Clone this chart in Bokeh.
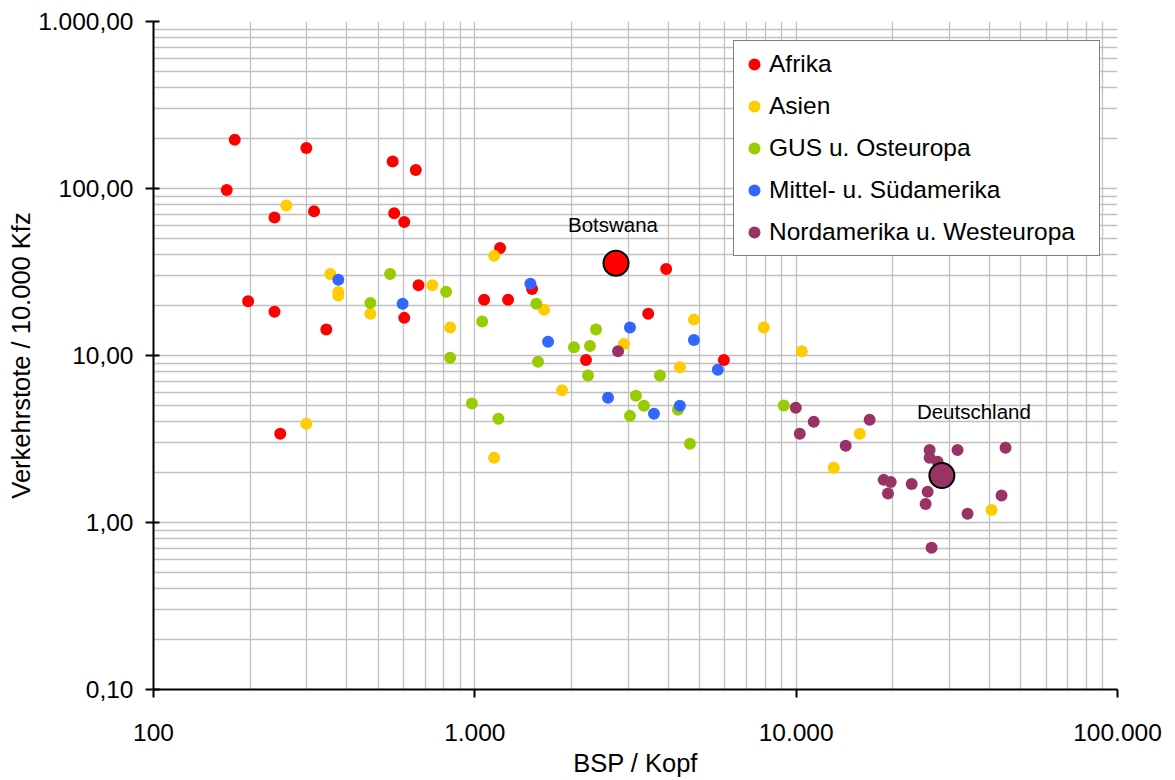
from bokeh.plotting import figure
from bokeh.models import Range1d, FixedTicker, Label, Legend, LegendItem, CustomJSTickFormatter
from bokeh.embed import file_html
from bokeh.resources import INLINE

# --- data: GDP per capita (BSP / Kopf) vs. road deaths per 10,000 vehicles ---
regions = ["Afrika", "Asien", "GUS u. Osteuropa", "Mittel- u. Südamerika", "Nordamerika u. Westeuropa"]
region_colors = ["#FF0000", "#FFCC00", "#99CC00", "#3366FF", "#993366"]

afrika_bsp = [179, 299, 555, 655, 169, 316, 238, 561, 603, 1198, 3940, 1507, 1069, 1269,
              197, 238, 668, 603, 345, 3464, 2218, 5957, 248]
afrika_tote = [196, 175, 145, 129, 98, 73, 67, 71, 63, 44, 33, 25, 21.6, 21.6,
               21.1, 18.3, 26.3, 16.8, 14.3, 17.8, 9.4, 9.4, 3.4]

asien_bsp = [259, 1148, 355, 376, 376, 737, 473, 838, 299, 1148, 1642, 4806, 7931, 2912,
             10410, 4346, 1868, 15770, 13090, 40550]
asien_tote = [79, 39.5, 30.8, 24.0, 22.9, 26.3, 17.8, 14.7, 3.9, 2.44, 18.8, 16.4, 14.7, 11.7,
              10.6, 8.5, 6.2, 3.4, 2.13, 1.19]

gus_bsp = [545, 814, 473, 1054, 838, 979, 1184, 1554, 2383, 2035, 2282, 1573, 2250, 3767,
           3172, 3360, 3039, 4285, 4670, 9152]
gus_tote = [30.8, 24.1, 20.6, 16.0, 9.7, 5.16, 4.18, 20.4, 14.3, 11.2, 11.4, 9.17, 7.59, 7.59,
            5.74, 5.0, 4.35, 4.73, 2.96, 5.02]

mittel_bsp = [376, 596, 1489, 1690, 3039, 4806, 5705, 2597, 3609, 4346]
mittel_tote = [28.4, 20.4, 26.9, 12.1, 14.7, 12.4, 8.21, 5.58, 4.48, 5.0]

nord_bsp = [2790, 9972, 11340, 10260, 16930, 14260, 26020, 31780, 44830, 26020, 27550,
            18720, 19690, 22880, 25650, 19310, 25290, 43560, 34150, 26390]
nord_tote = [10.6, 4.86, 4.01, 3.4, 4.12, 2.88, 2.72, 2.72, 2.8, 2.44, 2.31,
             1.8, 1.75, 1.7, 1.53, 1.49, 1.29, 1.45, 1.13, 0.706]

# highlighted countries
highlight_names = ["Botswana", "Deutschland"]
highlight_bsp = [2750, 28410]
highlight_tote = [35.7, 1.91]
highlight_colors = ["#FF0000", "#993366"]

x_ticks = [100, 1000, 10000, 100000]
x_tick_labels = ["100", "1.000", "10.000", "100.000"]
y_ticks = [0.1, 1, 10, 100, 1000]
y_tick_labels = ["0,10", "1,00", "10,00", "100,00", "1.000,00"]

x_title = "BSP / Kopf"
y_title = "Verkehrstote / 10.000 Kfz"

FONT = "Liberation Sans"
GRID = "#C0C0C0"

p = figure(width=1175, height=780, x_axis_type="log", y_axis_type="log",
           x_range=Range1d(100, 100000), y_range=Range1d(0.1, 1000),
           output_backend="svg", toolbar_location=None,
           min_border_left=153, min_border_right=58, min_border_top=21, min_border_bottom=91)
p.outline_line_color = None
p.background_fill_color = "white"
p.border_fill_color = "white"


def minor_ticks(ticks):
    return [m * t for t in ticks[:-1] for m in range(2, 10)]


def log_formatter(values, labels):
    return CustomJSTickFormatter(
        args=dict(tick_values=values, tick_labels=labels),
        code="""
        for (let i = 0; i < tick_values.length; i++) {
            if (Math.abs(Math.log10(tick_values[i]) - Math.log10(tick)) < 1e-6) return tick_labels[i];
        }
        return "";
        """)


p.xaxis.ticker = FixedTicker(ticks=x_ticks, minor_ticks=minor_ticks(x_ticks))
p.yaxis.ticker = FixedTicker(ticks=y_ticks, minor_ticks=minor_ticks(y_ticks))
p.xaxis.formatter = log_formatter(x_ticks, x_tick_labels)
p.yaxis.formatter = log_formatter(y_ticks, y_tick_labels)

for g in (p.xgrid, p.ygrid):
    g.grid_line_color = GRID
    g.grid_line_width = 1.3
    g.minor_grid_line_color = GRID
    g.minor_grid_line_width = 1.3

p.axis.axis_line_color = "black"
p.axis.axis_line_width = 2
p.axis.major_tick_line_color = "black"
p.axis.major_tick_line_width = 2
p.axis.minor_tick_line_color = None
p.axis.major_label_text_font = FONT
p.axis.major_label_text_font_size = "24.5px"
p.axis.major_label_text_color = "black"
p.axis.axis_label_text_font = FONT
p.axis.axis_label_text_font_size = "25.5px"
p.axis.axis_label_text_font_style = "normal"
p.axis.axis_label_text_color = "black"

p.xaxis.major_tick_out = 8
p.xaxis.major_tick_in = 0
p.xaxis.major_label_standoff = 26
p.xaxis.axis_label = x_title
p.xaxis.axis_label_standoff = 5

p.yaxis.major_tick_out = 8
p.yaxis.major_tick_in = 6
p.yaxis.major_label_standoff = 12
p.yaxis.axis_label = y_title
p.yaxis.axis_label_standoff = 0

series = [
    (afrika_bsp, afrika_tote),
    (asien_bsp, asien_tote),
    (gus_bsp, gus_tote),
    (mittel_bsp, mittel_tote),
    (nord_bsp, nord_tote),
]

items = []
for name, color, (xs, ys) in zip(regions, region_colors, series):
    r = p.scatter(xs, ys, size=12, fill_color=color, line_color=None, marker="circle")
    items.append(LegendItem(label=name, renderers=[r]))

# highlighted countries with black outline
p.scatter(highlight_bsp, highlight_tote, size=25, fill_color=highlight_colors,
          line_color="black", line_width=2, marker="circle")

label_offsets = {"Botswana": (-3, 39), "Deutschland": (32, 64)}
for name, hx, hy in zip(highlight_names, highlight_bsp, highlight_tote):
    dx, dy = label_offsets[name]
    p.add_layout(Label(x=hx, y=hy, text=name, x_offset=dx, y_offset=dy,
                       text_align="center", text_baseline="alphabetic",
                       text_font=FONT, text_font_size="20.5px", text_color="black"))

legend = Legend(items=items, location=(580, 433), margin=0, padding=5, spacing=6,
                glyph_width=30, glyph_height=36, label_height=36, label_standoff=0,
                label_width=325, label_text_font=FONT, label_text_font_size="24.5px",
                label_text_color="black", border_line_color="black", border_line_width=1.5,
                background_fill_color="white", background_fill_alpha=1.0)
p.add_layout(legend)

open("out.html", "w").write(file_html(p, INLINE))
